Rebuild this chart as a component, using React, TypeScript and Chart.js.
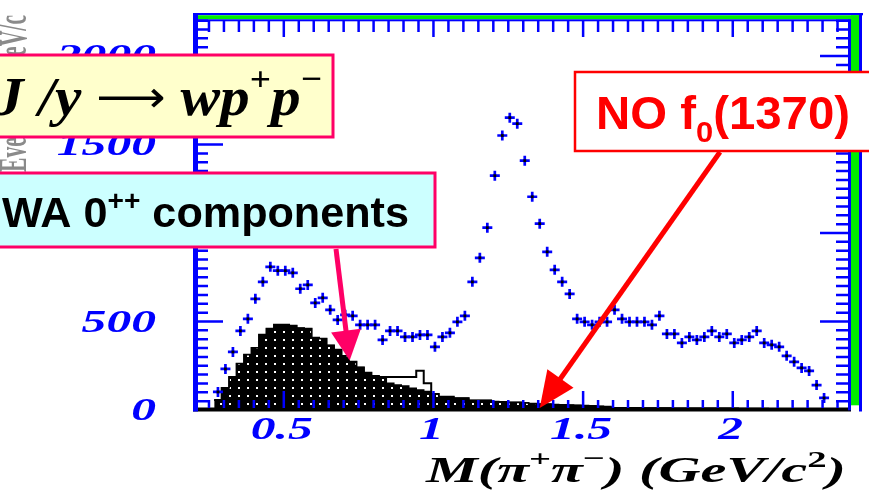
import { useEffect, useRef } from 'react';
import { Chart, registerables } from 'chart.js';

Chart.register(...registerables);

// 25 MeV/c^2 bins in M(pi+ pi-), GeV/c^2
const BIN_START = 0.2675;
const BIN_WIDTH = 0.025;

// Observed events per bin
const DATA_COUNTS = [
  102, 232, 328, 447, 515, 628, 724, 809, 787, 787,
  775, 685, 707, 605, 634, 566, 509, 538, 532, 481,
  481, 481, 396, 447, 447, 413, 413, 424, 424, 357,
  413, 436, 498, 532, 724, 860, 1030, 1324, 1551, 1652,
  1618, 1409, 1205, 1053, 894, 792, 724, 656, 515, 498,
  481, 498, 498, 566, 515, 498, 498, 498, 481, 532,
  430, 430, 379, 413, 396, 413, 447, 413, 430, 379,
  396, 413, 447, 379, 368, 357, 306, 272, 238, 221,
  141, 68,
];

// WA102 0++ components (filled histogram)
const WA_COUNTS = [
  57, 125, 187, 262, 312, 351, 425, 459, 482, 482,
  476, 462, 459, 408, 402, 365, 340, 305, 272, 240,
  210, 192, 180, 151, 141, 136, 123, 113, 104, 91,
  75, 75, 66, 66, 53, 53, 53, 47, 45, 43,
  42, 40, 35, 33, 32, 30, 28, 27, 25, 24,
  22, 20, 18, 12, 12, 11, 11, 10, 10, 10,
  10, 9, 9, 9, 9, 8, 8, 8, 8, 8,
  7, 7, 7, 7, 6, 6, 6, 6, 5, 5, 5,
];

// Summed fit components (open histogram)
const FIT_COUNTS = [
  57, 125, 187, 262, 312, 351, 425, 459, 482, 482,
  476, 462, 459, 408, 402, 365, 340, 305, 272, 240,
  210, 192, 187, 187, 187, 187, 187, 222, 151, 91,
  75, 75, 66, 66, 53, 53, 53, 47, 45, 43,
  42, 40, 35, 33, 32, 30, 28, 27, 25, 24,
  22, 20, 18, 12, 12, 11, 11, 10, 10, 10,
  10, 9, 9, 9, 9, 8, 8, 8, 8, 8,
  7, 7, 7, 7, 6, 6, 6, 6, 5, 5, 5,
];

const X_MIN = 0.21;
const X_MAX = 2.395;
const Y_MIN = 0;
const Y_MAX = 2215;
const X_TICK_VALUES = [0.5, 1, 1.5, 2];
const X_TICK_LABELS = ['0.5', '1', '1.5', '2'];
const Y_TICK_VALUES = [0, 500, 1000, 1500, 2000];
const Y_TICK_LABELS = ['0', '500', '1000', '1500', '2000'];
const X_MINOR_STEP = 0.05;
const Y_MINOR_STEP = 50;

// arrow targets in data coordinates
const WA_ARROW_TIP = { x: 0.72, y: 280 };
const F0_ARROW_TIP = { x: 1.355, y: 0 };

const BLUE = '#0000ff';
const PINK = '#ff0066';
const RED = '#ff0000';

const binCenters = (n: number) => Array.from({ length: n }, (_, i) => BIN_START + (i + 0.5) * BIN_WIDTH);

// histogram outline: one point per lower bin edge plus the closing edge
const histPoints = (counts: number[]) => {
  const pts = counts.map((c, i) => ({ x: BIN_START + i * BIN_WIDTH, y: c }));
  pts.push({ x: BIN_START + counts.length * BIN_WIDTH, y: 0 });
  return pts;
};

function dottedFill(): CanvasPattern | string {
  const c = document.createElement('canvas');
  c.width = 9;
  c.height = 8;
  const g = c.getContext('2d');
  if (!g) return '#000';
  g.fillStyle = '#000';
  g.fillRect(0, 0, 9, 8);
  g.fillStyle = '#fff';
  g.fillRect(4, 3, 2, 2);
  return g.createPattern(c, 'repeat') ?? '#000';
}

type Run = { t: string; font: string; dy?: number };

function drawRuns(ctx: CanvasRenderingContext2D, runs: Run[], x: number, y: number, width: number, color: string) {
  ctx.save();
  let natural = 0;
  const widths = runs.map((r) => {
    ctx.font = r.font;
    const w = ctx.measureText(r.t).width;
    natural += w;
    return w;
  });
  ctx.translate(x, y);
  ctx.scale(width / natural, 1);
  ctx.fillStyle = color;
  ctx.textAlign = 'left';
  ctx.textBaseline = 'alphabetic';
  let cx = 0;
  runs.forEach((r, i) => {
    ctx.font = r.font;
    ctx.fillText(r.t, cx, r.dy ?? 0);
    cx += widths[i];
  });
  ctx.restore();
}

function drawStretched(ctx: CanvasRenderingContext2D, text: string, x: number, y: number, font: string, sx: number, align: CanvasTextAlign, color: string) {
  ctx.save();
  ctx.translate(x, y);
  ctx.scale(sx, 1);
  ctx.font = font;
  ctx.textAlign = align;
  ctx.textBaseline = 'alphabetic';
  ctx.fillStyle = color;
  ctx.fillText(text, 0, 0);
  ctx.restore();
}

function drawArrow(ctx: CanvasRenderingContext2D, x1: number, y1: number, x2: number, y2: number, color: string, width: number, headLen: number, headHalf: number) {
  const dx = x2 - x1;
  const dy = y2 - y1;
  const len = Math.hypot(dx, dy);
  const ux = dx / len;
  const uy = dy / len;
  const bx = x2 - ux * headLen;
  const by = y2 - uy * headLen;
  ctx.save();
  ctx.strokeStyle = color;
  ctx.lineWidth = width;
  ctx.beginPath();
  ctx.moveTo(x1, y1);
  ctx.lineTo(bx + ux * 2, by + uy * 2);
  ctx.stroke();
  ctx.fillStyle = color;
  ctx.beginPath();
  ctx.moveTo(x2, y2);
  ctx.lineTo(bx - uy * headHalf, by + ux * headHalf);
  ctx.lineTo(bx + uy * headHalf, by - ux * headHalf);
  ctx.closePath();
  ctx.fill();
  ctx.restore();
}

function drawBox(ctx: CanvasRenderingContext2D, x: number, y: number, w: number, h: number, fill: string, stroke: string, lw: number) {
  ctx.save();
  ctx.fillStyle = fill;
  ctx.fillRect(x, y, w, h);
  ctx.strokeStyle = stroke;
  ctx.lineWidth = lw;
  ctx.strokeRect(x, y, w, h);
  ctx.restore();
}

const decorations = {
  id: 'decorations',
  afterDraw(chart: any) {
    const { ctx, chartArea: a } = chart;
    const xs = chart.scales.x;
    const ys = chart.scales.y;
    ctx.save();

    // faded vertical axis caption, mostly beyond the left edge
    ctx.save();
    ctx.translate(26, 172);
    ctx.rotate(-Math.PI / 2);
    drawRuns(ctx, [{ t: 'Events/25 MeV/c', font: 'bold 40px "Liberation Serif"' }], 0, 0, 157, '#8a8a8a');
    ctx.restore();

    // tick labels
    const tickFont = 'italic bold 32px "Liberation Serif"';
    Y_TICK_VALUES.forEach((v, i) => {
      drawStretched(ctx, Y_TICK_LABELS[i], a.left - 41, ys.getPixelForValue(v) + 10, tickFont, 1.55, 'right', BLUE);
    });
    X_TICK_VALUES.forEach((v, i) => {
      drawStretched(ctx, X_TICK_LABELS[i], xs.getPixelForValue(v) - 2, a.bottom + 29, tickFont, 1.55, 'center', BLUE);
    });

    // frame
    ctx.fillStyle = '#000';
    ctx.fillRect(a.left - 4, a.bottom - 2.5, a.right - a.left + 4, 4);
    ctx.fillStyle = BLUE;
    ctx.fillRect(a.left - 4, a.top - 5, 5, a.bottom - a.top + 6.5);
    ctx.fillRect(a.left - 4, a.top - 5, a.right - a.left + 16, 2.3);
    ctx.fillRect(a.right + 8, a.top - 5, 3, a.bottom - a.top + 6.5);
    ctx.fillStyle = '#00ee00';
    ctx.fillRect(a.left + 1, a.top - 2.7, a.right - a.left + 7, 4);
    ctx.fillRect(a.right, a.top - 2.7, 8, a.bottom - a.top - 2);
    ctx.fillStyle = BLUE;
    ctx.fillRect(a.left + 1, a.top + 1.3, a.right - a.left - 1, 2);
    ctx.fillRect(a.right - 3, a.top + 1.3, 3, a.bottom - a.top - 1);

    // ticks
    ctx.strokeStyle = BLUE;
    ctx.lineWidth = 2.5;
    ctx.beginPath();
    for (let i = Math.ceil(X_MIN / X_MINOR_STEP); i * X_MINOR_STEP <= X_MAX; i++) {
      const v = i * X_MINOR_STEP;
      const major = X_TICK_VALUES.some((t) => Math.abs(t - v) < 1e-6);
      const px = xs.getPixelForValue(v);
      ctx.moveTo(px, a.top + 3);
      ctx.lineTo(px, a.top + (major ? 19 : 14));
      ctx.moveTo(px, a.bottom - 2);
      ctx.lineTo(px, a.bottom - (major ? 19 : 10));
    }
    for (let i = 1; i * Y_MINOR_STEP <= Y_MAX; i++) {
      const v = i * Y_MINOR_STEP;
      const major = Y_TICK_VALUES.some((t) => t === v);
      const py = ys.getPixelForValue(v);
      ctx.moveTo(a.left, py);
      ctx.lineTo(a.left + (major ? 26 : 11), py);
      ctx.moveTo(a.right - 3, py);
      ctx.lineTo(a.right - (major ? 31 : 15), py);
    }
    ctx.stroke();

    // axis title
    const tf = 'italic bold 36px "Liberation Serif"';
    const sf = 'bold 24px "Liberation Serif"';
    drawRuns(ctx, [
      { t: 'M(π', font: tf },
      { t: '+', font: sf, dy: -16 },
      { t: 'π', font: tf },
      { t: '−', font: sf, dy: -16 },
      { t: ') (GeV/c', font: tf },
      { t: '2', font: sf, dy: -15 },
      { t: ')', font: tf },
    ], 426, 482, 420, '#000');

    // decay channel label
    drawBox(ctx, -5, 55, 338, 82, '#ffffcc', PINK, 3);
    const jf = 'italic bold 54px "Liberation Serif"';
    const jsup = 'bold 34px "Liberation Serif"';
    drawRuns(ctx, [
      { t: 'J /y ', font: jf },
      { t: '⟶', font: '44px "DejaVu Sans"', dy: -3 },
      { t: ' wp', font: jf },
      { t: '+', font: jsup, dy: -25 },
      { t: 'p', font: jf },
      { t: '−', font: jsup, dy: -25 },
    ], -6, 115, 328, '#000');

    // WA components label
    drawBox(ctx, -5, 173, 440, 74, '#ccffff', PINK, 3);
    drawRuns(ctx, [
      { t: 'WA 0', font: 'bold 43px "Liberation Sans"' },
      { t: '++', font: 'bold 28px "Liberation Sans"', dy: -17 },
      { t: ' components', font: 'bold 43px "Liberation Sans"' },
    ], 2, 227, 407, '#000');
    drawArrow(ctx, 336, 249, xs.getPixelForValue(WA_ARROW_TIP.x), ys.getPixelForValue(WA_ARROW_TIP.y), PINK, 5, 30, 15);

    // f0(1370) label
    drawBox(ctx, 575, 72, 310, 79, '#ffffff', RED, 2.5);
    drawRuns(ctx, [
      { t: 'NO f', font: 'bold 46px "Liberation Sans"' },
      { t: '0', font: 'bold 30px "Liberation Sans"', dy: 13 },
      { t: '(1370)', font: 'bold 46px "Liberation Sans"' },
    ], 596, 129, 254, RED);
    drawArrow(ctx, 720, 152, xs.getPixelForValue(F0_ARROW_TIP.x), ys.getPixelForValue(F0_ARROW_TIP.y) - 2, RED, 5, 36, 16);

    ctx.restore();
  },
};

export default function App() {
  const ref = useRef<HTMLCanvasElement>(null);

  useEffect(() => {
    const canvas = ref.current;
    if (!canvas) return;
    const centers = binCenters(DATA_COUNTS.length);
    const points = DATA_COUNTS.map((c, i) => ({ x: centers[i], y: c }));

    const chart = new Chart(canvas, {
      type: 'line',
      data: {
        datasets: [
          {
            label: 'data centres',
            data: points,
            showLine: false,
            pointStyle: 'rect',
            pointRadius: 2,
            pointBorderWidth: 0,
            pointBackgroundColor: '#000',
            order: 0,
          },
          {
            label: 'data',
            data: points,
            showLine: false,
            pointStyle: 'cross',
            pointRadius: 5,
            pointBorderWidth: 2.7,
            pointBorderColor: BLUE,
            order: 1,
          },
          {
            label: 'WA 0++ components',
            data: histPoints(WA_COUNTS),
            stepped: 'before',
            fill: 'origin',
            backgroundColor: dottedFill(),
            borderColor: '#000',
            borderWidth: 1.5,
            pointRadius: 0,
            order: 2,
          },
          {
            label: 'fit sum',
            data: histPoints(FIT_COUNTS),
            stepped: 'before',
            fill: 'origin',
            backgroundColor: '#ffffff',
            borderColor: '#000',
            borderWidth: 2,
            pointRadius: 0,
            order: 3,
          },
        ],
      },
      options: {
        animation: false,
        responsive: false,
        events: [],
        layout: { padding: { left: 197, right: 18, top: 18, bottom: 82 } },
        plugins: { legend: { display: false }, tooltip: { enabled: false } },
        scales: {
          x: { type: 'linear', min: X_MIN, max: X_MAX, display: false },
          y: { type: 'linear', min: Y_MIN, max: Y_MAX, display: false },
        },
      },
      plugins: [decorations],
    } as any);

    return () => chart.destroy();
  }, []);

  return (
    <div style={{ position: 'fixed', left: 0, top: 0, width: 869, height: 492, background: '#fff' }}>
      <canvas ref={ref} width={869} height={492} style={{ display: 'block', width: 869, height: 492 }} />
    </div>
  );
}
